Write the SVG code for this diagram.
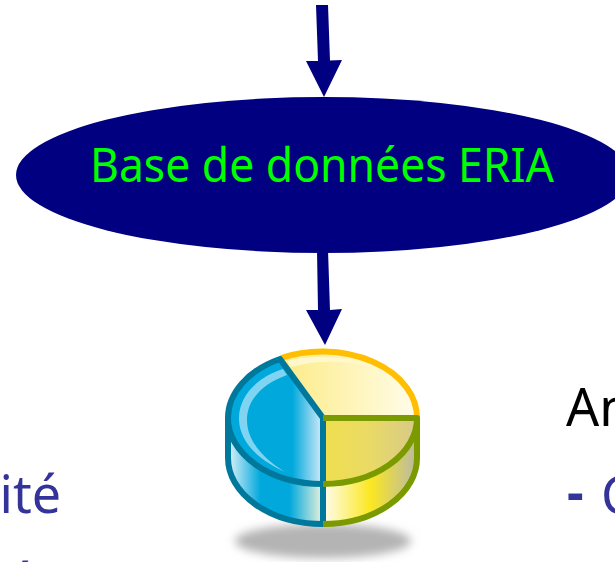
<svg xmlns="http://www.w3.org/2000/svg" width="615" height="562" viewBox="0 0 615 562">
<style>
.t{font-family:"Noto Sans","DejaVu Sans",sans-serif}
.blue{fill:#333399;font-size:52px}
.arrow{fill:#000080}
.tl{stroke:#00789c;stroke-width:6;stroke-linejoin:round;fill:none}
.gr{stroke:#7a9a00;stroke-width:6;stroke-linejoin:round;fill:none}
</style>
<defs>
<linearGradient id="gTop" x1="280" x2="418" y1="0" y2="0" gradientUnits="userSpaceOnUse"><stop offset="0" stop-color="#fdeb85"/><stop offset="1" stop-color="#fffdea"/></linearGradient>
<linearGradient id="gGreen" x1="323" x2="418" y1="0" y2="0" gradientUnits="userSpaceOnUse"><stop offset="0" stop-color="#efdf4e"/><stop offset="0.5" stop-color="#e9da66"/><stop offset="1" stop-color="#d6c98a"/></linearGradient>
<linearGradient id="gBlue" x1="227" x2="323" y1="0" y2="0" gradientUnits="userSpaceOnUse"><stop offset="0" stop-color="#00a8dc"/><stop offset="0.68" stop-color="#00a8dc"/><stop offset="1" stop-color="#d8ecfa"/></linearGradient>
<linearGradient id="gSideB" x1="227" x2="323" y1="0" y2="0" gradientUnits="userSpaceOnUse"><stop offset="0" stop-color="#e8f4fb"/><stop offset="0.35" stop-color="#00a8dc"/><stop offset="0.65" stop-color="#00a8dc"/><stop offset="1" stop-color="#eef2dc"/></linearGradient>
<linearGradient id="gSideY" x1="323" x2="418" y1="0" y2="0" gradientUnits="userSpaceOnUse"><stop offset="0" stop-color="#fffdf0"/><stop offset="0.5" stop-color="#fbe722"/><stop offset="1" stop-color="#b8b8a8"/></linearGradient>
<filter id="blur" x="-20%" y="-80%" width="140%" height="260%"><feGaussianBlur stdDeviation="5"/></filter>
</defs>
<g id="connectors">
<path class="arrow" d="M316 5H328L330 60.500L342 60L324 97L306 61L318 61Z"/>
<path class="arrow" d="M317 250H328L330 310L342 309L325 345L306 310L318 310Z"/>
</g>
<g id="node-base">
<ellipse cx="323" cy="175" rx="307" ry="78" fill="#000080"/>
<text class="t" x="90" y="182" font-size="47.500" textLength="464" lengthAdjust="spacingAndGlyphs" fill="#00ff00">Base de données ERIA</text>
</g>
<g id="node-chart">
<ellipse cx="323" cy="541" rx="88" ry="17" fill="#b4b4b4" filter="url(#blur)"/>
<path d="M228 418V458A95 66 0 0 0 323 524V484A95 66 0 0 1 228 418Z" fill="url(#gSideB)"/>
<path d="M417 418V458A94 66 0 0 1 323 524V484A94 66 0 0 0 417 418Z" fill="url(#gSideY)"/>
<path d="M280 359A95 66 0 0 1 418 418H323Z" fill="url(#gTop)"/>
<path d="M323 418H417A94 66 0 0 1 323 484Z" fill="url(#gGreen)"/>
<path d="M280 359A95 66 0 0 0 228 418A95 66 0 0 0 323 484V418Z" fill="url(#gBlue)"/>
<path d="M283 369C255 378 238 398 239 420C240 442 258 460 285 472C262 458 247 440 247 420C247 400 262 384 287 375Z" fill="#7fd4f2"/>
<path d="M287 361A95 60 0 0 1 385 372A95 58 0 0 0 291 367Z" fill="#fff8cc"/>
<path d="M281 358A95 66 0 0 1 417 418" fill="none" stroke="#ffbe00" stroke-width="6"/>
<path class="tl" d="M323 418L280 359A95 66 0 0 0 228 418V458A95 66 0 0 0 323 524V418M228 418A95 66 0 0 0 323 484"/>
<path class="gr" d="M323 418H417V458A94 66 0 0 1 323 524M417 418A94 66 0 0 1 323 484"/>
</g>
<g id="labels">
<text class="t blue" x="61" y="513" text-anchor="end">ité</text>
<text class="t blue" x="35" y="601" text-anchor="end">é</text>
<text class="t" x="566" y="426" font-size="52" fill="#000000">An</text>
<text class="t blue" x="567" y="511" font-weight="700">-<tspan x="601" y="514" font-weight="400">C</tspan></text>
</g>
</svg>
